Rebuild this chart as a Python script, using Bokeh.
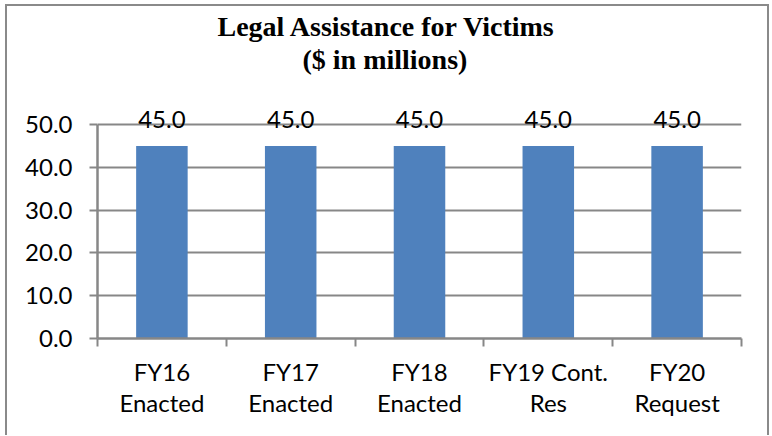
import numpy as np
from bokeh.plotting import figure
from bokeh.core.properties import value
from bokeh.models import (ColumnDataSource, Range1d, FixedTicker, NumeralTickFormatter,
                          CustomJSTickFormatter, LabelSet, Title, LinearAxis, Grid)
from bokeh.embed import file_html
from bokeh.resources import INLINE

title_line1 = "Legal Assistance for Victims"
title_line2 = "($ in millions)"
categories = ["FY16\nEnacted", "FY17\nEnacted", "FY18\nEnacted", "FY19 Cont.\nRes", "FY20\nRequest"]
values = [45.0, 45.0, 45.0, 45.0, 45.0]
y_ticks = [0, 10, 20, 30, 40, 50]

n = len(categories)
centers = list(np.arange(n) + 0.5)
bounds = list(np.arange(n + 1).astype(float))

src = ColumnDataSource(dict(x=centers, top=values, lab=[f"{v:.1f}" for v in values]))

GRAY = "#878787"
FONT = "Lato"

FRAME_H = 235
Y_TOP = y_ticks[-1]
Y_END = Y_TOP * FRAME_H / 214.0

p = figure(output_backend="svg", toolbar_location=None,
           frame_width=644, frame_height=FRAME_H,
           min_border_left=90, min_border_right=26, min_border_top=97, min_border_bottom=97,
           x_range=Range1d(0, n), y_range=Range1d(0, Y_END),
           x_axis_type=None, y_axis_type=None)
p.outline_line_color = None
p.background_fill_color = "white"
p.border_fill_color = "white"
p.styles = {"margin-left": "7px", "margin-top": "6px",
            "box-shadow": "-2px 0 0 0 #8a8a8a, 2px 0 0 0 #8a8a8a, 0 -2px 0 0 #8a8a8a, -2px -2px 0 0 #8a8a8a, 2px -2px 0 0 #8a8a8a"}

yaxis = LinearAxis(ticker=FixedTicker(ticks=y_ticks), formatter=NumeralTickFormatter(format="0.0"),
                   bounds=(0, Y_TOP))
yaxis.axis_line_color = GRAY
yaxis.axis_line_width = 2.5
yaxis.major_tick_line_color = GRAY
yaxis.major_tick_line_width = 2
yaxis.major_tick_out = 8
yaxis.major_tick_in = 0
yaxis.minor_tick_line_color = None
yaxis.major_label_standoff = 17
yaxis.major_label_text_font = FONT
yaxis.major_label_text_font_size = "24px"
yaxis.major_label_text_color = "black"
p.add_layout(yaxis, "left")

xaxis = LinearAxis(ticker=FixedTicker(ticks=centers, minor_ticks=bounds),
                   formatter=CustomJSTickFormatter(args=dict(labels=categories),
                                                   code="return labels[Math.floor(tick)]"))
xaxis.axis_line_color = GRAY
xaxis.axis_line_width = 2.5
xaxis.major_tick_line_color = None
xaxis.major_tick_out = 8
xaxis.major_tick_in = 0
xaxis.minor_tick_line_color = GRAY
xaxis.minor_tick_line_width = 2
xaxis.minor_tick_out = 8
xaxis.minor_tick_in = 0
xaxis.major_label_standoff = 10
xaxis.major_label_text_font = FONT
xaxis.major_label_text_font_size = "24px"
xaxis.major_label_text_color = "black"
xaxis.major_label_text_line_height = 1.1
p.add_layout(xaxis, "below")

grid = Grid(dimension=1, ticker=yaxis.ticker, grid_line_color=GRAY, grid_line_width=2)
p.add_layout(grid)

p.vbar(x="x", top="top", width=0.4, bottom=0, source=src,
       fill_color="#4F81BD", line_color=None)

labels = LabelSet(x="x", y="top", text="lab", source=src, text_align="center",
                  text_baseline="alphabetic", y_offset=18,
                  text_font=value(FONT), text_font_size=value("24px"), text_color=value("black"))
p.add_layout(labels)

spacer = Title(text=" ", text_font_size="1px", standoff=26)
p.add_layout(spacer, "above")
t2 = Title(text=title_line2, align="left", offset=205,
           text_font="Liberation Serif", text_font_style="bold", text_font_size="28px",
           text_color="black", standoff=0)
p.add_layout(t2, "above")
t1 = Title(text=title_line1, align="left", offset=120,
           text_font="Liberation Serif", text_font_style="bold", text_font_size="28px",
           text_color="black", standoff=0)
p.add_layout(t1, "above")

open("out.html", "w").write(file_html(p, INLINE))
